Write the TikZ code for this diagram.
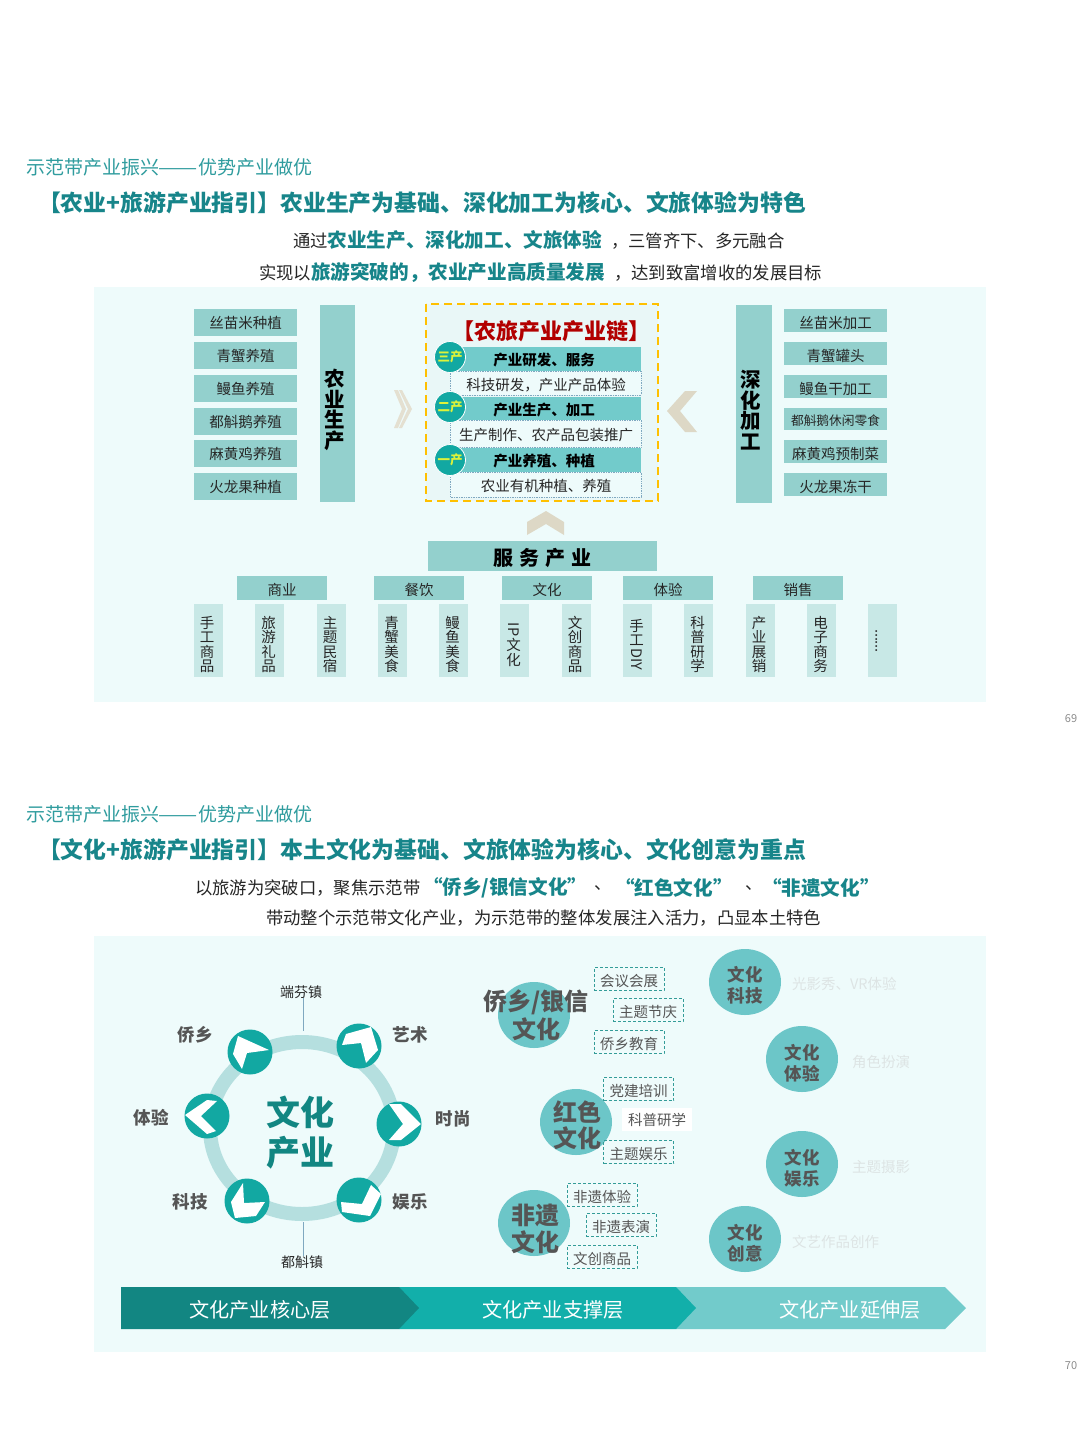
\documentclass[tikz,border=0pt]{standalone}
\usepackage{fontspec}
\usepackage{graphicx}
\setmainfont{Noto Sans CJK SC}
\usetikzlibrary{shapes.geometric}
\definecolor{panelbg}{HTML}{EEFBFB}
\definecolor{chainbg}{HTML}{E9F7F7}
\definecolor{boxteal}{HTML}{93D0CD}
\definecolor{palebox}{HTML}{C8E8E6}
\definecolor{headteal}{HTML}{2F9C9E}
\definecolor{titleteal}{HTML}{17858A}
\definecolor{barteal}{HTML}{72CBCB}
\definecolor{dotteal}{HTML}{12A8A2}
\definecolor{ringc}{HTML}{B5DFDF}
\definecolor{beige}{HTML}{DDD8C6}
\definecolor{dgray}{HTML}{555555}
\definecolor{midc}{HTML}{6CC6C8}
\definecolor{arrowa}{HTML}{128682}
\definecolor{arrowb}{HTML}{12AFAA}
\definecolor{ghost}{HTML}{DDE4E4}
\definecolor{chainyellow}{HTML}{FFC000}
\definecolor{lime}{HTML}{DDF23A}
\definecolor{steel}{HTML}{7FA8C0}
\newcommand\fs[1]{\fontsize{#1}{#1}\selectfont}
\newcommand\fl[2]{\fontsize{#1}{#2}\selectfont}
\newcommand\hl[1]{{\fontsize{19.6}{19.6}\selectfont\textbf{\textcolor{titleteal}{#1}}}}
\newcommand\longdash{\scalebox{1.23}[1]{——}}
\tikzset{
  x=1pt,y=-1pt,
  txt/.style={inner sep=0pt,outer sep=0pt,text=black!85},
  headline/.style={txt,anchor=west,text=headteal,font=\fs{19}},
  titleline/.style={txt,anchor=west,text=titleteal,font=\bfseries\fs{22.85}},
  subline/.style={txt,anchor=west,font=\fs{17.35}},
  panel/.style={fill=panelbg,draw=none},
  box/.style={fill=boxteal,draw=none},
  btxt/.style={txt,font=\fs{14.5}},
  vbold/.style={txt,align=center,font=\bfseries\fl{20.5}{20.5},text=black},
  vtxt/.style={txt,align=center,font=\fl{14.5}{14.6}},
  pale/.style={fill=palebox,draw=none},
  chainbar/.style={fill=barteal,draw=none},
  chainsub/.style={fill=panelbg,draw=steel,densely dotted,line width=.7pt},
  chainc/.style={circle,fill=dotteal,draw=white,line width=.8pt,minimum size=31pt,inner sep=0pt,text=lime,font=\bfseries\fs{12.5}},
  dot/.style={circle,fill=dotteal,draw=none,minimum size=45pt,inner sep=0pt},
  glabel/.style={txt,text=dgray,font=\bfseries\fs{17.5}},
  midcirc/.style={ellipse,fill=midc,draw=none,minimum width=72pt,minimum height=66pt,inner sep=0pt},
  midtxt/.style={txt,text=dgray,font=\bfseries\fs{24}},
  righttxt/.style={txt,align=center,text=dgray,font=\bfseries\fl{17.5}{21}},
  tagbox/.style={draw=dotteal!70!gray,densely dashed,line width=.6pt,minimum width=70pt,minimum height=23.5pt,inner sep=0pt,text height=15.5pt,text depth=.5pt,text=dgray,font=\fs{14.5}},
  ghosttxt/.style={txt,anchor=west,text=ghost,font=\fs{14.5}},
  pagenum/.style={txt,text=black!45,font=\fs{11}}
}
\begin{document}
\begin{tikzpicture}
\useasboundingbox (0,0) rectangle (1080,1440);
\fill[white] (0,0) rectangle (1080,1440);
% ---------- top page
\node[headline] (h1) at (26,167) {示范带产业振兴\longdash 优势产业做优};
\node[titleline] (t1) at (38,203) {【农业+旅游产业指引】农业生产为基础、深化加工为核心、文旅体验为特色};
\node[subline] (s1) at (293,240) {通过\hl{农业生产、深化加工、文旅体验}\hspace{9pt}，三管齐下、多元融合};
\node[subline] (s2) at (259,273) {实现以\hl{旅游突破的，农业产业高质量发展}\hspace{9pt}，达到致富增收的发展目标};
\fill[panel] (94,287) rectangle (986,702);
% left boxes
\foreach \y/\t in {309/丝苗米种植,342/青蟹养殖,375/鳗鱼养殖,408/都斛鹅养殖,440/麻黄鸡养殖,473/火龙果种植}{
  \fill[box] (194,\y) rectangle (297,\y+27);
  \node[btxt] at (245.5,\y+13.5) {\t};
}
\fill[box] (320,305) rectangle (355,502);
\node[vbold] (agri) at (335,410) {农\\业\\生\\产};
% right boxes
\foreach \y/\t in {309/丝苗米加工,342/青蟹罐头,375/鳗鱼干加工,440/麻黄鸡预制菜,473/火龙果冻干}{
  \fill[box] (784,\y) rectangle (887,\y+23);
  \node[btxt] at (835.5,\y+14) {\t};
}
\fill[box] (784,408) rectangle (887,430);
\node[btxt,font=\fs{12.7}] at (835.5,421) {都斛鹅休闲零食};
\fill[box] (736,305) rectangle (772,503);
\node[vbold] (deep) at (751,410) {深\\化\\加\\工};
% chevrons
\fill[beige!80!white] (394,390) -- (398,390) -- (406,409) -- (398,428) -- (394,428) -- (402,409) -- cycle;
\fill[beige!80!white] (399,390) -- (402,390) -- (412,409) -- (402,428) -- (399,428) -- (408,409) -- cycle;
\fill[beige] (685,391) -- (697,391) -- (680,411) -- (697,432) -- (685,432) -- (667,411) -- cycle;
\fill[beige] (546,511) -- (564,522) -- (564,535) -- (546,524) -- (527,535) -- (527,522) -- cycle;
% chain box
\draw[fill=chainbg,draw=chainyellow,line width=2.4pt,dash pattern=on 8pt off 5pt] (426,304) rectangle (658,501);
\node[txt,text=red!70!black,font=\bfseries\fs{22}] (chain) at (551,331) {【农旅产业产业链】};
\fill[chainbar] (459,347) rectangle (641,371);
\draw[chainsub] (450,371) rectangle (641,395);
\fill[chainbar] (459,397) rectangle (641,420);
\draw[chainsub] (450,420) rectangle (641,447);
\fill[chainbar] (459,448) rectangle (641,472);
\draw[chainsub] (450,472) rectangle (641,497);
\node[txt,text=black,font=\bfseries\fs{14.5}] at (544,360) {产业研发、服务};
\node[txt,text=black,font=\bfseries\fs{14.5}] at (544,410) {产业生产、加工};
\node[txt,text=black,font=\bfseries\fs{14.5}] at (544,461) {产业养殖、种植};
\node[btxt] at (546,385) {科技研发，产业产品体验};
\node[btxt] at (546,435.5) {生产制作、农产品包装推广};
\node[btxt] at (546,486) {农业有机种植、养殖};
\node[chainc] (c3) at (450,357) {三产};
\node[chainc] (c2) at (450,407) {二产};
\node[chainc] (c1) at (450,460) {一产};
% service
\fill[box] (428,541) rectangle (657,571);
\node[txt,text=black,font=\bfseries\fs{20}] (serv) at (542,558) {服\hspace{6pt}务\hspace{6pt}产\hspace{6pt}业};
\foreach \x/\t in {237/商业,374/餐饮,502/文化,623/体验,753/销售}{
  \fill[box] (\x,576) rectangle (\x+90,600);
  \node[btxt] at (\x+45,590) {\t};
}
\foreach \x/\t in {193.5/手\\工\\商\\品,255/旅\\游\\礼\\品,316.5/主\\题\\民\\宿,378/青\\蟹\\美\\食,439/鳗\\鱼\\美\\食,500/\rotatebox{-90}{IP}\\[1pt]文\\化,561.5/文\\创\\商\\品,684/科\\普\\研\\学,745.5/产\\业\\展\\销,807/电\\子\\商\\务}{
  \fill[pale] (\x,604) rectangle (\x+29,677);
  \node[vtxt,xshift=-1pt] at (\x+14.5,644.5) {\t};
}
\fill[pale] (623,604) rectangle (652,677);
\node[vtxt] (diy) at (636.5,644.5) {手\\工\\[-12pt]\rotatebox{-90}{DIY}};
\fill[pale] (868,604) rectangle (897,677);
\node[txt,font=\fs{14},rotate=90] (dots) at (877,641) {......};
\node[pagenum] (p69) at (1071,719) {69};
% ---------- bottom page
\node[headline] (h2) at (26,814) {示范带产业振兴\longdash 优势产业做优};
\node[titleline] (t2) at (38,850) {【文化+旅游产业指引】本土文化为基础、文旅体验为核心、文化创意为重点};
\node[subline] (s3) at (195,888) {以旅游为突破口，聚焦示范带};
\node[subline] (s3a) at (423,888) {\hl{“侨乡/银信文化”}};
\node[subline] (s3b) at (594,888) {、};
\node[subline] (s3c) at (615,888) {\hl{“红色文化”}};
\node[subline] (s3d) at (745,888) {、};
\node[subline] (s3e) at (762,888) {\hl{“非遗文化”}};
\node[subline] (s4) at (266,918) {带动整个示范带文化产业，为示范带的整体发展注入活力，凸显本土特色};
\fill[panel] (94,936) rectangle (986,1352);
% ring
\draw[ringc,line width=14pt] (302,1128) ellipse [x radius=92,y radius=86];
\node[txt,align=center,text=arrowa,font=\bfseries\fl{34}{40}] (core) at (300,1133) {文化\\产业};
\node[txt,font=\fs{14}] (duanfen) at (301,992) {端芬镇};
\node[txt,font=\fs{14}] (duhu) at (302,1262) {都斛镇};
\coordinate (rtop) at (303,1031);
\coordinate (rbot) at (303,1222);
\draw[steel,line width=.7pt] (duanfen.south -| rtop) -- (rtop);
\draw[steel,line width=.7pt] (rbot) -- (duhu.north -| rbot);
\node[dot] (d1) at (250,1052) {};
\node[dot] (d2) at (359,1046) {};
\node[dot] (d3) at (399,1124) {};
\node[dot] (d4) at (359,1200) {};
\node[dot] (d5) at (247,1201) {};
\node[dot] (d6) at (207,1116) {};
\fill[white,shift={(250,1052)}] (-12,-16) -- (19,-2) -- (-3,1) -- (-8,17) -- (-17,2) -- cycle;
\fill[white,shift={(359,1046)}] (12,-19) -- (19,4) -- (7,17) -- (2,-3) -- (-17,-1) -- (-13,-12) -- cycle;
\fill[white,shift={(399,1124)}] (-10,-20) -- (2,-20) -- (22,0) -- (2,16) -- (-10,16) -- (4,0) -- cycle;
\fill[white,shift={(359,1200)}] (11,16) -- (-17,12) -- (-18,2) -- (3,4) -- (12,-15) -- (22,-6) -- cycle;
\fill[white,shift={(247,1201)}] (-12,17) -- (-16,1) -- (-4,-18) -- (-3,2) -- (18,1) -- (9,15) -- cycle;
\fill[white,shift={(207,1116)}] (-22,-1) -- (0,-16) -- (10,-15) -- (-6,0) -- (9,15) -- (0,18) -- cycle;
\node[glabel] (l1) at (195,1035) {侨乡};
\node[glabel] (l2) at (410,1035) {艺术};
\node[glabel] (l3) at (453,1119) {时尚};
\node[glabel] (l4) at (410,1202) {娱乐};
\node[glabel] (l5) at (190,1202) {科技};
\node[glabel] (l6) at (151,1118) {体验};
% middle
\node[midcirc] (m1) at (534,1015) {};
\node[midcirc] (m2) at (576,1122) {};
\node[midcirc] (m3) at (534,1223) {};
\node[midtxt] at (536,1002) {侨乡/银信};
\node[midtxt] at (536,1029) {文化};
\node[midtxt] at (577,1112) {红色};
\node[midtxt] at (577,1138) {文化};
\node[midtxt] at (535,1215) {非遗};
\node[midtxt] at (535,1242) {文化};
\node[tagbox] (g1) at (629,979) {会议会展};
\node[tagbox] (g2) at (648,1010) {主题节庆};
\node[tagbox] (g3) at (629,1042) {侨乡教育};
\node[tagbox] (g4) at (638.5,1089) {党建培训};
\node[tagbox,draw=none,fill=white,text height=11.5pt] (g5) at (657,1119.5) {科普研学};
\node[tagbox] (g6) at (638.5,1152) {主题娱乐};
\node[tagbox] (g7) at (602,1195) {非遗体验};
\node[tagbox] (g8) at (621,1225) {非遗表演};
\node[tagbox] (g9) at (602,1257) {文创商品};
% right
\node[midcirc] (r1) at (745,982) {};
\node[midcirc] (r2) at (802,1059) {};
\node[midcirc] (r3) at (802,1164) {};
\node[midcirc] (r4) at (745,1239) {};
\node[righttxt] at (745,985) {文化\\科技};
\node[righttxt] at (802,1063) {文化\\体验};
\node[righttxt] at (802,1168) {文化\\娱乐};
\node[righttxt] at (745,1243) {文化\\创意};
\node[ghosttxt] at (792,984) {光影秀、VR体验};
\node[ghosttxt] at (852,1062) {角色扮演};
\node[ghosttxt] at (852,1167) {主题摄影};
\node[ghosttxt] at (792,1242) {文艺作品创作};
% bottom arrows
\fill[barteal] (676,1287) -- (945,1287) -- (966,1308) -- (945,1329) -- (676,1329) -- cycle;
\fill[arrowb] (399,1287) -- (676,1287) -- (696,1308) -- (676,1329) -- (399,1329) -- cycle;
\fill[arrowa] (121,1287) -- (399,1287) -- (419,1308) -- (399,1329) -- (121,1329) -- cycle;
\node[txt,text=white,font=\fs{20.2}] (a1) at (260,1310) {文化产业核心层};
\node[txt,text=white,font=\fs{20.2}] (a2) at (553,1310) {文化产业支撑层};
\node[txt,text=white,font=\fs{20.2}] (a3) at (850,1310) {文化产业延伸层};
\node[pagenum] (p70) at (1071,1366) {70};
\end{tikzpicture}
\end{document}
